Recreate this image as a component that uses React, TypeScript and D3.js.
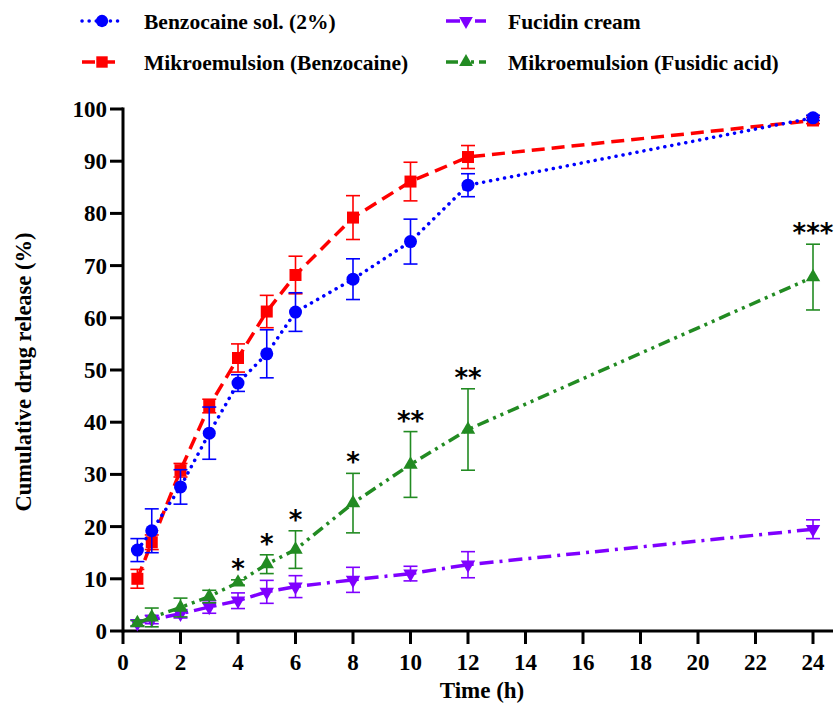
import React from "react";
import * as d3 from "d3";

const times = [0.5, 1, 2, 3, 4, 5, 6, 8, 10, 12, 24];
const benzoSol = [15.5, 19.2, 27.6, 37.9, 47.5, 53.1, 61.1, 67.4, 74.6, 85.4, 98.3];
const benzoSolErr = [2.2, 4.2, 3.3, 5.0, 1.6, 4.6, 3.7, 3.9, 4.3, 2.2, 0.5];
const microBenzo = [10.0, 17.0, 30.8, 43.1, 52.3, 61.2, 68.2, 79.2, 86.1, 90.8, 97.8];
const microBenzoErr = [1.8, 1.4, 1.3, 1.3, 2.7, 3.1, 3.6, 4.2, 3.7, 2.2, 0.6];
const fucidin = [1.5, 2.2, 3.3, 4.6, 5.8, 7.5, 8.5, 9.8, 11.0, 12.7, 19.5];
const fucidinErr = [0.6, 0.8, 0.8, 1.2, 1.5, 2.2, 2.1, 2.4, 1.4, 2.5, 1.8];
const fusidicMicro = [1.5, 2.6, 4.5, 6.6, 9.3, 12.8, 15.6, 24.5, 31.9, 38.6, 67.8];
const fusidicMicroErr = [0.5, 1.8, 1.8, 1.2, 0.5, 1.8, 3.6, 5.7, 6.3, 7.8, 6.3];
const stars = ["", "", "", "", "*", "*", "*", "*", "**", "**", "***"];

const xTicks = [0, 2, 4, 6, 8, 10, 12, 14, 16, 18, 20, 22, 24];
const yTicks = [0, 10, 20, 30, 40, 50, 60, 70, 80, 90, 100];

const seriesNames = [
  "Benzocaine sol. (2%)",
  "Mikroemulsion (Benzocaine)",
  "Fucidin cream",
  "Mikroemulsion (Fusidic acid)",
];

const FONT = "'Liberation Serif', 'Times New Roman', serif";

type Series = {
  name: string;
  values: number[];
  errs: number[];
  color: string;
  dash: string;
  marker: "circle" | "square" | "down" | "up";
};

const series: Series[] = [
  { name: seriesNames[2], values: fucidin, errs: fucidinErr, color: "#7f00ff", dash: "14,6,3,6", marker: "down" },
  { name: seriesNames[3], values: fusidicMicro, errs: fusidicMicroErr, color: "#228b22", dash: "12,5,3,5,3,5", marker: "up" },
  { name: seriesNames[1], values: microBenzo, errs: microBenzoErr, color: "#ff0000", dash: "13,7", marker: "square" },
  { name: seriesNames[0], values: benzoSol, errs: benzoSolErr, color: "#0000ff", dash: "0.1,7", marker: "circle" },
];

function Marker({ type, x, y, color, s = 1 }: { type: string; x: number; y: number; color: string; s?: number }) {
  if (type === "circle") return <circle cx={x} cy={y} r={6.5 * s} fill={color} />;
  if (type === "square") return <rect x={x - 6 * s} y={y - 6 * s} width={12 * s} height={12 * s} fill={color} />;
  const sym = d3.symbol().type(d3.symbolTriangle).size(90 * s * s)();
  return <path d={sym || ""} transform={`translate(${x},${y}) rotate(${type === "down" ? 180 : 0})`} fill={color} />;
}

export default function App() {
  const x = d3.scaleLinear().domain([0, 24]).range([123, 813]);
  const y = d3.scaleLinear().domain([0, 100]).range([631, 109]);
  const line = d3
    .line<number>()
    .x((_, i) => x(times[i]))
    .y((v) => y(v));

  const legendItems = [
    { s: series[3], lx: 82, ly: 21 },
    { s: series[2], lx: 82, ly: 62 },
    { s: series[0], lx: 446, ly: 21 },
    { s: series[1], lx: 446, ly: 62 },
  ];

  return (
    <svg width={835} height={703} style={{ position: "absolute", left: 0, top: 0, background: "#fff" }} fontFamily={FONT}>
      {/* axes */}
      <line x1={123} x2={833} y1={y(0)} y2={y(0)} stroke="#000" strokeWidth={3} />
      <line x1={x(0)} x2={x(0)} y1={y(100) - 1.5} y2={y(0) + 1.5} stroke="#000" strokeWidth={3} />
      {yTicks.map((t) => (
        <g key={"y" + t}>
          <line x1={x(0) - 13} x2={x(0)} y1={y(t)} y2={y(t)} stroke="#000" strokeWidth={3} />
          <text x={x(0) - 16} y={y(t)} dy="0.35em" textAnchor="end" fontSize={23} fontWeight="bold">
            {t}
          </text>
        </g>
      ))}
      {xTicks.map((t) => (
        <g key={"x" + t}>
          <line x1={x(t)} x2={x(t)} y1={y(0)} y2={y(0) + 13} stroke="#000" strokeWidth={3} />
          <text x={x(t)} y={y(0) + 39} textAnchor="middle" fontSize={23} fontWeight="bold">
            {t}
          </text>
        </g>
      ))}
      <text x={482} y={698} textAnchor="middle" fontSize={23} fontWeight="bold">
        Time (h)
      </text>
      <text transform={`translate(31,372) rotate(-90)`} textAnchor="middle" fontSize={22.5} fontWeight="bold">
        Cumulative drug release (%)
      </text>

      {/* series */}
      {series.map((s) => (
        <g key={s.name}>
          {s.values.map((v, i) => {
            const cx = x(times[i]);
            const e = s.errs[i];
            return (
              <g key={i} stroke={s.color} strokeWidth={1.6}>
                <line x1={cx} x2={cx} y1={y(v + e)} y2={y(v - e)} />
                <line x1={cx - 7} x2={cx + 7} y1={y(v + e)} y2={y(v + e)} />
                <line x1={cx - 7} x2={cx + 7} y1={y(v - e)} y2={y(v - e)} />
              </g>
            );
          })}
          <path
            d={line(s.values) || ""}
            fill="none"
            stroke={s.color}
            strokeWidth={3.5}
            strokeDasharray={s.dash}
            strokeLinecap={s.marker === "circle" ? "round" : "butt"}
          />
          {s.values.map((v, i) => (
            <Marker key={i} type={s.marker} x={x(times[i])} y={y(v)} color={s.color} />
          ))}
        </g>
      ))}

      {/* significance stars */}
      {stars.map((st, i) =>
        st ? (
          <text
            key={"st" + i}
            x={x(times[i])}
            y={y(fusidicMicro[i] + fusidicMicroErr[i]) - 2}
            textAnchor="middle"
            fontSize={26}
            fontWeight="bold"
            fontFamily="'DejaVu Sans', sans-serif"
          >
            {st}
          </text>
        ) : null
      )}

      {/* legend */}
      {legendItems.map(({ s, lx, ly }) => (
        <g key={"lg" + s.name}>
          <line x1={lx} x2={lx + 40} y1={ly} y2={ly} stroke={s.color} strokeWidth={3.5} strokeDasharray={s.dash} strokeLinecap={s.marker === "circle" ? "round" : "butt"} />
          <Marker type={s.marker} x={lx + 20} y={ly} color={s.color} s={0.95} />
          <text x={lx + 62} y={ly} dy="0.35em" fontSize={21.5} fontWeight="bold">
            {s.name}
          </text>
        </g>
      ))}
    </svg>
  );
}
